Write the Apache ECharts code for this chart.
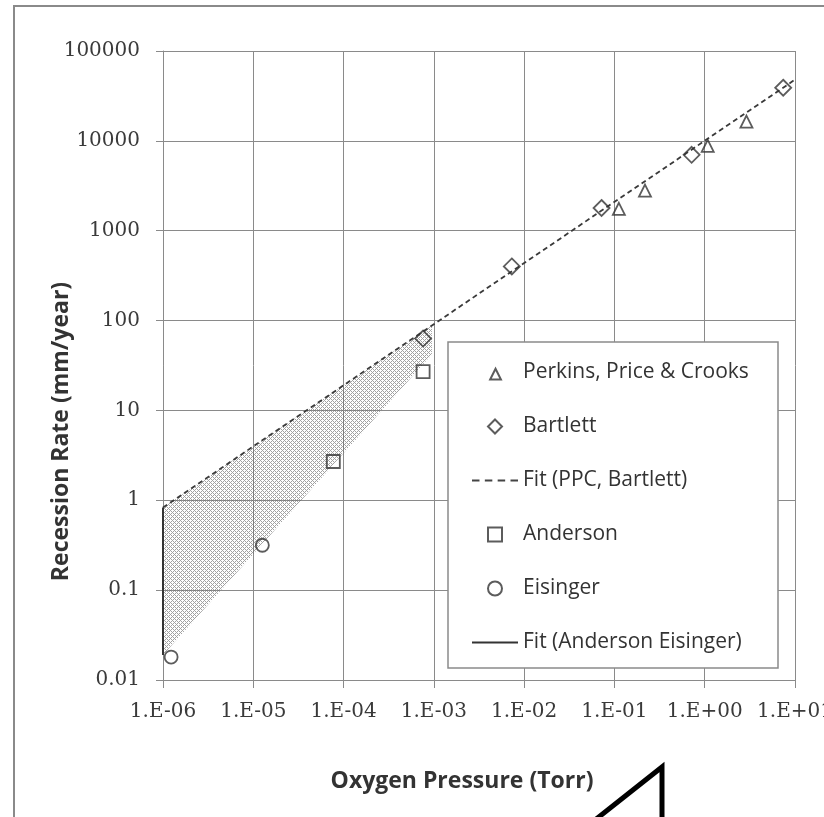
<!DOCTYPE html>
<html><head><meta charset="utf-8">
<script src="https://cdn.jsdelivr.net/npm/echarts@6/dist/echarts.min.js"></script>
<style>html,body{margin:0;padding:0;background:#fff}#c{width:824px;height:817px}</style>
</head><body><div id="c"></div>
<script>
// ---- data ----
const xTickLabels = ['1.E-06','1.E-05','1.E-04','1.E-03','1.E-02','1.E-01','1.E+00','1.E+01'];
const yTickLabels = ['0.01','0.1','1','10','100','1000','10000','100000'];
const perkinsX = [0.112, 0.218, 1.08, 2.9];
const perkinsY = [1750, 2800, 8800, 16400];
const bartlettX = [7.6e-4, 7.3e-3, 0.072, 0.716, 7.4];
const bartlettY = [63, 400, 1790, 6990, 39000];
const fitPPCX = [1e-6, 10];
const fitPPCY = [0.83, 48000];
const andersonX = [7.6e-4, 7.7e-5];
const andersonY = [27, 2.7];
const eisingerX = [1.26e-5, 1.23e-6];
const eisingerY = [0.316, 0.018];
const fitAEX = [1e-6, 1e-6];
const fitAEY = [0.83, 0.019];
const bandX = [1e-6, 9.5e-4, 9.5e-4, 1e-6];
const bandY = [0.83, 88, 42, 0.019];

const pairs = (xs, ys) => xs.map((x, i) => [x, ys[i]]);

// hatch pattern
const pc = document.createElement('canvas'); pc.width = 4; pc.height = 4;
const g = pc.getContext('2d');
g.fillStyle = 'rgba(100,100,100,0.6)';
[[0,0],[1,1],[2,2],[3,3],[1,3],[3,1]].forEach(p => g.fillRect(p[0], p[1], 1, 1));
const hatch = { image: pc, repeat: 'repeat' };

// legend icons (padded paths so they stay small and centred)
const iconTri = 'path://M0,-2L0,-2M1,11L6,1L11,11Z';
const iconDia = 'path://M7,0L14,7L7,14L0,7Z';
const iconSq = 'path://M0,0L14,0L14,14L0,14Z';
const iconCir = 'path://M7,0A7,7,0,1,1,6.99,0Z';
const iconDash = 'path://M0,0h7v2h-7zM12,0h7v2h-7zM24,0h7v2h-7zM36,0h7v2h-7z';
const iconSolid = 'path://M0,0h43v2h-43z';

const chart = echarts.init(document.getElementById('c'), null, { renderer: 'canvas' });
const titleStyle = { fontFamily: 'Open Sans', fontWeight: 'bold', fontSize: 23, color: '#333' };
const markerStyle = { color: 'rgba(255,255,255,0)', borderColor: '#333', borderWidth: 1.8 };
const gridLine = { lineStyle: { color: '#8a8a8a', width: 1 } };

chart.setOption({
  animation: false,
  backgroundColor: '#fff',
  grid: { left: 163, right: 29, top: 51, bottom: 137, containLabel: false, outerBoundsMode: 'none' },
  xAxis: {
    type: 'log', logBase: 10, min: 1e-6, max: 10,
    name: 'Oxygen Pressure (Torr)', nameLocation: 'middle', nameGap: 90, nameMoveOverlap: false,
    nameTextStyle: Object.assign({ padding: [0, 34, 0, 0] }, titleStyle),
    axisLine: { show: true, lineStyle: { color: '#8a8a8a', width: 1 } },
    axisTick: { show: true, length: 8, lineStyle: { color: '#8a8a8a' } },
    splitLine: Object.assign({ show: true }, gridLine),
    minorTick: { show: false }, minorSplitLine: { show: false },
    axisLabel: {
      margin: 22, fontFamily: 'DejaVu Serif', fontSize: 20, color: '#3a3a3a',
      formatter: v => xTickLabels[Math.round(Math.log10(v)) + 6]
    }
  },
  yAxis: {
    type: 'log', logBase: 10, min: 0.01, max: 100000,
    name: 'Recession Rate (mm/year)', nameLocation: 'middle', nameGap: 90, nameMoveOverlap: false,
    nameTextStyle: Object.assign({ padding: [0, 132, 0, 0] }, titleStyle),
    axisLine: { show: true, lineStyle: { color: '#8a8a8a', width: 1 } },
    axisTick: { show: true, length: 7, lineStyle: { color: '#8a8a8a' } },
    splitLine: Object.assign({ show: true }, gridLine),
    minorTick: { show: false }, minorSplitLine: { show: false },
    axisLabel: {
      margin: 23, fontFamily: 'DejaVu Serif', fontSize: 20, color: '#3a3a3a',
      formatter: v => yTickLabels[Math.round(Math.log10(v)) + 2]
    }
  },
  legend: {
    orient: 'vertical', left: 448, top: 342,
    padding: [20, 20, 15, 24],
    itemWidth: 46, itemHeight: 14, itemGap: 33,
    selectedMode: false,
    textStyle: { fontFamily: 'Open Sans', fontSize: 21, color: '#333' },
    data: [
      { name: 'Perkins, Price & Crooks', icon: iconTri },
      { name: 'Bartlett', icon: iconDia },
      { name: 'Fit (PPC, Bartlett)', icon: iconDash },
      { name: 'Anderson', icon: iconSq },
      { name: 'Eisinger', icon: iconCir },
      { name: 'Fit (Anderson Eisinger)', icon: iconSolid }
    ]
  },
  graphic: [
    { type: 'rect', z: -1, shape: { x: 14, y: 6, width: 900, height: 900 },
      style: { fill: 'none', stroke: '#8a8a8a', lineWidth: 2 } },
    { type: 'rect', z: 3, shape: { x: 448, y: 342, width: 330, height: 326 },
      style: { fill: '#fff', stroke: '#8a8a8a', lineWidth: 1.5 } },
    { type: 'polyline', z: 10, shape: { points: [[595, 820], [662, 767], [662, 820]] },
      style: { fill: 'none', stroke: '#000', lineWidth: 5 } }
  ],
  series: [
    {
      type: 'custom', name: 'band', silent: true, z: 1,
      data: pairs(bandX, bandY),
      renderItem: function (params, api) {
        if (params.dataIndex !== 0) return;
        const pts = bandX.map((x, i) => api.coord([x, bandY[i]]));
        return { type: 'polygon', shape: { points: pts }, style: { fill: hatch } };
      }
    },
    {
      type: 'line', name: 'Fit (PPC, Bartlett)', data: pairs(fitPPCX, fitPPCY),
      symbol: 'none', z: 2,
      lineStyle: { color: '#3a3a3a', width: 1.8, type: [5, 3.5] },
      itemStyle: { color: '#444', borderWidth: 0 }
    },
    {
      type: 'line', name: 'Fit (Anderson Eisinger)', data: pairs(fitAEX, fitAEY),
      symbol: 'none', z: 2,
      lineStyle: { color: '#333', width: 2 },
      itemStyle: { color: '#333', borderWidth: 0 }
    },
    { type: 'scatter', name: 'Perkins, Price & Crooks', data: pairs(perkinsX, perkinsY),
      symbol: 'triangle', symbolSize: 12, itemStyle: markerStyle, z: 2 },
    { type: 'scatter', name: 'Bartlett', data: pairs(bartlettX, bartlettY),
      symbol: 'diamond', symbolSize: 16, itemStyle: markerStyle, z: 2 },
    { type: 'scatter', name: 'Anderson', data: pairs(andersonX, andersonY),
      symbol: 'rect', symbolSize: 13, itemStyle: markerStyle, z: 2 },
    { type: 'scatter', name: 'Eisinger', data: pairs(eisingerX, eisingerY),
      symbol: 'circle', symbolSize: 13, itemStyle: markerStyle, z: 2 }
  ]
});
</script>
</body></html>
